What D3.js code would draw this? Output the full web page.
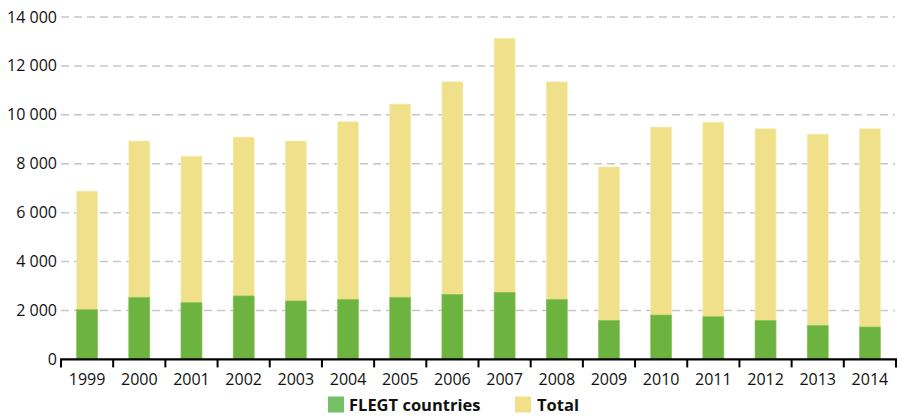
<!DOCTYPE html>
<html>
<head>
<meta charset="utf-8">
<script src="https://cdn.jsdelivr.net/npm/d3@7"></script>
<style>
  html, body { margin: 0; padding: 0; background: #fff; }
  svg { display: block; font-family: "Open Sans", sans-serif; }
</style>
</head>
<body>
<svg id="chart" width="902" height="416"></svg>
<script>
const years = ["1999","2000","2001","2002","2003","2004","2005","2006","2007","2008","2009","2010","2011","2012","2013","2014"];
const totalValues = [6880, 8930, 8310, 9090, 8930, 9715, 10440, 11350, 13130, 11350, 7870, 9500, 9700, 9430, 9210, 9430];
const flegtValues = [2035, 2540, 2320, 2595, 2390, 2455, 2540, 2660, 2745, 2455, 1595, 1815, 1745, 1595, 1390, 1325];
const yTicks = [0, 2000, 4000, 6000, 8000, 10000, 12000, 14000];
const seriesNames = ["FLEGT countries", "Total"];
const seriesColors = ["#6cb33f", "#f0e08a"];
const legendColors = ["#74c064", "#f0e08a"];

const svg = d3.select("#chart");
const x = d3.scaleBand().domain(years).range([61, 896]).padding(0);
const y = d3.scaleLinear().domain([0, 14000]).range([359.4, 17]);
const barW = 21;
const fmt = v => d3.format(",")(v).replace(/,/g, " ");

// gridlines
svg.append("g").selectAll("line").data(yTicks.filter(t => t > 0)).join("line")
  .attr("x1", 61).attr("x2", 895)
  .attr("y1", d => y(d)).attr("y2", d => y(d))
  .attr("stroke", "#c6c6c6").attr("stroke-width", 1.5)
  .attr("stroke-dasharray", "8,5");

// y labels
svg.append("g").selectAll("text").data(yTicks).join("text")
  .attr("x", 57).attr("y", d => y(d) + 5.5)
  .attr("text-anchor", "end")
  .attr("font-size", 16).attr("fill", "#111")
  .text(d => fmt(d));

// total bars
svg.append("g").selectAll("rect").data(years).join("rect")
  .attr("x", (d) => x(d) + x.bandwidth() / 2 - barW / 2)
  .attr("width", barW)
  .attr("y", (d, i) => y(totalValues[i]))
  .attr("height", (d, i) => y(0) - y(totalValues[i]))
  .attr("fill", seriesColors[1])
  .attr("stroke", "#f6eeb8").attr("stroke-width", 0.6);

// flegt bars
svg.append("g").selectAll("rect").data(years).join("rect")
  .attr("x", (d) => x(d) + x.bandwidth() / 2 - barW / 2)
  .attr("width", barW)
  .attr("y", (d, i) => y(flegtValues[i]))
  .attr("height", (d, i) => y(0) - y(flegtValues[i]))
  .attr("fill", seriesColors[0])
  .attr("stroke", "#8cc56a").attr("stroke-width", 0.6);

// x axis
const xAxis = d3.axisBottom(x).tickSize(0).tickPadding(0);
const gx = svg.append("g").attr("transform", `translate(0,${y(0)})`).call(xAxis);
gx.select(".domain").remove();
gx.selectAll("text").attr("font-size", 16).attr("fill", "#111")
  .attr("font-family", "Open Sans, sans-serif").attr("dy", null).attr("y", 25.5);

svg.append("line").attr("x1", 60).attr("x2", 897)
  .attr("y1", y(0)).attr("y2", y(0))
  .attr("stroke", "#000").attr("stroke-width", 2.2);
const boundaries = years.map(d => x(d)).concat([x.range()[1]]);
svg.append("g").selectAll("line").data(boundaries).join("line")
  .attr("x1", d => d).attr("x2", d => d)
  .attr("y1", y(0)).attr("y2", y(0) + 8)
  .attr("stroke", "#000").attr("stroke-width", 2);

// legend
const legend = svg.append("g");
const legendPos = [[328, 349], [515, 537]];
seriesNames.forEach((name, i) => {
  legend.append("rect").attr("x", legendPos[i][0]).attr("y", 396.5)
    .attr("width", 16).attr("height", 16).attr("fill", legendColors[i]);
  legend.append("text").attr("x", legendPos[i][1]).attr("y", 411)
    .attr("font-size", 16.5).attr("font-weight", "bold").attr("fill", "#111")
    .text(name);
});
</script>
</body>
</html>
